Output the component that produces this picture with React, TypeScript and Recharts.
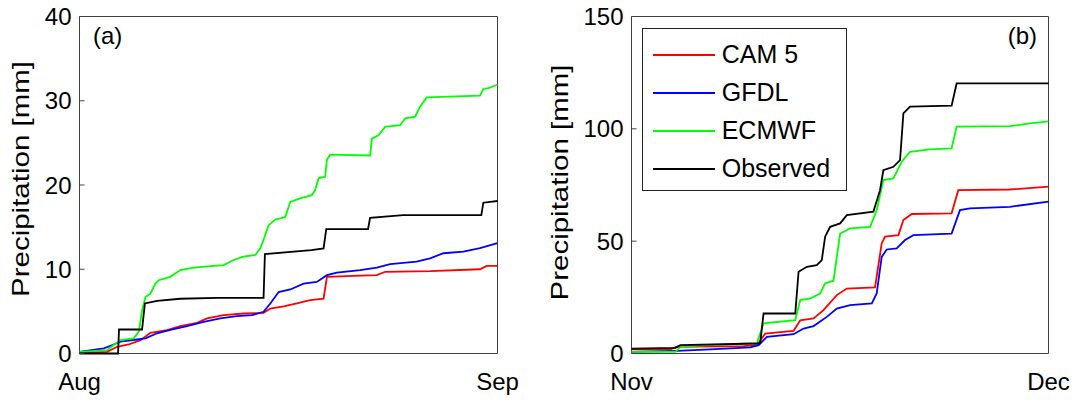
import React from "react";
import { LineChart, Line, XAxis, YAxis, ReferenceArea, Legend } from "recharts";

// ── Cumulative precipitation, two months ─────────────────────

type Pt = [number, number]; // [day of month, accumulated mm]

const SERIES_NAMES = ["CAM 5", "GFDL", "ECMWF", "Observed"];
const SERIES_COLORS = ["#ff0000", "#0000ff", "#00ff00", "#000000"];

const AUG_MONTHS = ["Aug", "Sep"];
const AUG_DAYS = 31;
const AUG_TICKS = [0, 10, 20, 30, 40];

const NOV_MONTHS = ["Nov", "Dec"];
const NOV_DAYS = 30;
const NOV_TICKS = [0, 50, 100, 150];

const AUG_CAM5: Pt[] = [
  [0, 0.08], [2.05, 0.2], [2.79, 0.8], [3.65, 1.07], [4.52, 1.58], [5.26, 2.45],
  [6.49, 2.77], [7.48, 3.25], [8.72, 3.64], [9.46, 4.16], [10.69, 4.55], [12.17, 4.75],
  [13.65, 4.83], [14.15, 5.34], [15.14, 5.6], [16.12, 5.94], [17.11, 6.33], [18.1, 6.5],
  [18.35, 9.1], [20.32, 9.22], [22.05, 9.3], [22.67, 9.7], [26.0, 9.78], [29.7, 10.0],
  [30.2, 10.4], [31, 10.4],
];
const AUG_GFDL: Pt[] = [
  [0, 0.2], [1.8, 0.6], [2.54, 1.07], [3.04, 1.4], [4.27, 1.66], [4.89, 1.8],
  [5.75, 2.4], [6.74, 2.8], [7.98, 3.25], [9.21, 3.76], [10.44, 4.16], [11.68, 4.43],
  [12.79, 4.55], [13.65, 4.95], [14.15, 5.94], [14.77, 7.3], [15.63, 7.6], [16.62, 8.3],
  [17.6, 8.5], [18.35, 9.3], [19.09, 9.6], [20.81, 9.9], [22.05, 10.2], [23.04, 10.6],
  [25.0, 10.9], [26.0, 11.3], [26.99, 11.9], [28.47, 12.1], [29.7, 12.5], [31, 13.1],
];
const AUG_ECMWF: Pt[] = [
  [0, 0.2], [2.05, 0.4], [2.54, 1.0], [3.04, 1.6], [4.02, 1.8], [4.4, 2.6],
  [4.64, 5.1], [4.89, 6.7], [5.26, 7.1], [5.63, 8.3], [5.88, 8.7], [6.74, 9.1],
  [7.48, 9.9], [8.47, 10.2], [9.95, 10.4], [10.69, 10.5], [11.43, 11.1], [12.17, 11.5],
  [13.04, 11.7], [13.41, 12.5], [13.65, 13.5], [14.02, 15.2], [14.52, 15.9], [15.26, 16.2],
  [15.63, 18.0], [16.37, 18.4], [17.23, 18.8], [17.48, 19.4], [17.73, 20.8], [18.22, 21.0],
  [18.35, 23.0], [18.59, 23.6], [21.56, 23.5], [21.68, 25.5], [22.17, 25.9], [22.67, 26.9],
  [23.78, 27.1], [24.15, 27.9], [24.89, 28.1], [25.26, 29.3], [25.75, 30.4], [29.7, 30.6],
  [29.95, 31.4], [30.32, 31.5], [31, 31.9],
];
const AUG_OBSERVED: Pt[] = [
  [0, 0], [2.86, 0], [2.93, 2.85], [4.64, 2.85], [4.85, 5.94], [5.75, 6.25],
  [7.48, 6.5], [10.2, 6.6], [13.65, 6.6], [13.75, 11.8], [17.2, 12.27], [18.1, 12.47],
  [18.3, 14.76], [21.4, 14.76], [21.55, 16.1], [24.0, 16.42], [29.8, 16.42], [29.95, 17.9],
  [31, 18.1],
];

const NOV_CAM5: Pt[] = [
  [0, 1.8], [2.8, 1.8], [3.28, 3.0], [8.07, 3.3], [9.03, 3.7], [9.62, 8.9],
  [11.66, 10.1], [12.14, 14.8], [13.1, 15.6], [13.81, 19.3], [14.77, 26], [15.49, 28.9],
  [17.52, 29.4], [18.0, 49], [18.24, 52], [19.2, 52.7], [19.56, 59.4], [20.16, 62.1],
  [23.03, 62.4], [23.51, 72.7], [27.22, 73.0], [30, 74.3],
];
const NOV_GFDL: Pt[] = [
  [0, 0.7], [3.28, 1.2], [5.67, 1.8], [8.55, 2.7], [9.15, 3.7], [9.74, 7.4],
  [11.66, 8.6], [12.38, 11.1], [13.1, 12.2], [14.05, 16.3], [14.77, 20.0], [15.73, 21.5],
  [17.29, 22.3], [17.64, 26.7], [18.0, 43], [18.36, 46.3], [19.08, 46.8], [19.68, 50.5],
  [20.28, 52.7], [23.03, 53.4], [23.63, 63.8], [24.35, 64.6], [27.22, 65.3], [30, 67.6],
];
const NOV_ECMWF: Pt[] = [
  [0, 0.7], [3.16, 0.7], [3.52, 3.0], [5.67, 3.7], [9.03, 4.75], [9.5, 13.4],
  [11.78, 14.8], [12.14, 23.8], [12.86, 24.5], [13.57, 26.7], [13.93, 31.2], [14.53, 32.4],
  [15.01, 53.4], [15.73, 55.7], [17.17, 56.4], [17.64, 63.8], [18.12, 77.2], [18.84, 77.9],
  [19.44, 85.4], [20.04, 89.8], [21.47, 90.9], [23.03, 91.3], [23.39, 101], [27.22, 101.2],
  [28.66, 102.4], [30, 103.3],
];
const NOV_OBSERVED: Pt[] = [
  [0, 2.2], [3.16, 2.5], [3.52, 3.7], [9.03, 4.45], [9.26, 4.6], [9.5, 17.8],
  [11.78, 17.8], [12.02, 36.4], [12.62, 38.6], [13.33, 39.3], [13.69, 41.6], [13.93, 52],
  [14.29, 56.4], [15.01, 57.9], [15.49, 61.6], [17.4, 63.1], [17.88, 72.7], [18.12, 81.6],
  [18.84, 83.1], [19.32, 86.1], [19.44, 96.5], [19.56, 106.9], [20.04, 109.9], [23.03, 110.3],
  [23.39, 120.2], [30, 120.2],
];

const FONT = '"Liberation Sans", Arial, sans-serif';
const AXIS = "#404040";
const HEIGHT = 403;
const Y_AXIS_W = 60;
const RIGHT_AXIS_W = 10;

const toRows = (pts: Pt[]) => pts.map(([x, y]) => ({ x, y }));

function LegendBox({ payload }: any) {
  const items = [...(payload || [])].sort(
    (a: any, b: any) => SERIES_NAMES.indexOf(a.value) - SERIES_NAMES.indexOf(b.value)
  );
  return (
    <div
      style={{
        boxSizing: "border-box",
        width: 205,
        height: 163,
        border: "1px solid #222",
        background: "#fff",
        paddingTop: 7,
        fontFamily: FONT,
      }}
    >
      {items.map((entry: any) => (
        <div key={entry.value} style={{ display: "flex", alignItems: "center", height: 38 }}>
          <span style={{ marginLeft: 10, width: 62, height: 2, background: entry.color }} />
          <span style={{ marginLeft: 7, fontSize: 25, lineHeight: 1, color: "#000" }}>
            {entry.value}
          </span>
        </div>
      ))}
    </div>
  );
}

interface PanelProps {
  series: Pt[][];
  days: number;
  months: string[];
  yTicks: number[];
  tag: string;
  tagSide: "left" | "right";
  width: number;
  // plot box edges inside the panel
  plot: { left: number; right: number; top: number; bottom: number };
  labelDx: number;
  labelDy: number;
  legend?: boolean;
}

function Panel({ series, days, months, yTicks, tag, tagSide, width, plot, labelDx, labelDy, legend }: PanelProps) {
  const yMax = yTicks[yTicks.length - 1];
  const margin = {
    top: plot.top,
    left: plot.left - Y_AXIS_W,
    right: width - plot.right - RIGHT_AXIS_W,
    bottom: HEIGHT - plot.bottom - 30,
  };

  const yLabel = (p: any) => {
    const vb = p.viewBox;
    const cx = vb.x + vb.width + labelDx;
    const cy = vb.y + vb.height / 2 + labelDy;
    return (
      <text
        transform={`translate(${cx}, ${cy}) rotate(-90)`}
        textAnchor="middle"
        fontSize={24}
        fill="#000"
        textLength={236}
        lengthAdjust="spacingAndGlyphs"
      >
        Precipitation [mm]
      </text>
    );
  };

  const tagLabel = (p: any) => {
    const vb = p.viewBox;
    const left = tagSide === "left";
    return (
      <text
        x={left ? vb.x + 13.5 : vb.x + vb.width - 11.5}
        y={vb.y + 27}
        textAnchor={left ? "start" : "end"}
        fontSize={24}
        fill="#000"
      >
        {tag}
      </text>
    );
  };

  return (
    <LineChart width={width} height={HEIGHT} margin={margin} style={{ fontFamily: FONT }}>
      <XAxis
        dataKey="x"
        type="number"
        domain={[0, days]}
        ticks={[0, days]}
        interval={0}
        tickFormatter={(v: number) => (v === 0 ? months[0] : months[1])}
        axisLine={false}
        tickLine={false}
        tickSize={0}
        tickMargin={19}
        height={30}
        tick={{ fill: "#000", fontSize: 24 }}
      />
      <YAxis
        domain={[0, yMax]}
        ticks={yTicks}
        interval={0}
        width={Y_AXIS_W}
        axisLine={false}
        tickSize={-5}
        tickMargin={13}
        stroke={AXIS}
        tick={{ fill: "#000", fontSize: 24 }}
        label={yLabel}
      />
      <YAxis
        yAxisId="right"
        orientation="right"
        domain={[0, yMax]}
        ticks={yTicks}
        interval={0}
        width={RIGHT_AXIS_W}
        axisLine={false}
        tickSize={-5}
        stroke={AXIS}
        tick={() => <g />}
      />
      <ReferenceArea
        x1={0}
        x2={days}
        y1={0}
        y2={yMax}
        fill="none"
        fillOpacity={0}
        stroke={AXIS}
        strokeWidth={1}
        label={tagLabel}
      />
      {series.map((pts, i) => (
        <Line
          key={SERIES_NAMES[i]}
          data={toRows(pts)}
          dataKey="y"
          name={SERIES_NAMES[i]}
          type="linear"
          stroke={SERIES_COLORS[i]}
          strokeWidth={1.8}
          dot={false}
          activeDot={false}
          isAnimationActive={false}
        />
      ))}
      {legend && (
        <Legend
          layout="horizontal"
          verticalAlign="middle"
          align="center"
          wrapperStyle={{ left: 101.7, top: 27.7, width: 205, height: 163 }}
          content={LegendBox}
        />
      )}
    </LineChart>
  );
}

export default function App() {
  return (
    <div style={{ position: "absolute", left: 0, top: 0, width: 1078, height: HEIGHT, background: "#fff" }}>
      <div style={{ position: "absolute", left: 0, top: 0 }}>
        <Panel
          series={[AUG_CAM5, AUG_GFDL, AUG_ECMWF, AUG_OBSERVED]}
          days={AUG_DAYS}
          months={AUG_MONTHS}
          yTicks={AUG_TICKS}
          tag="(a)"
          tagSide="left"
          width={540}
          plot={{ left: 79.5, right: 497.5, top: 16.5, bottom: 353.5 }}
          labelDx={-51}
          labelDy={-6}
        />
      </div>
      <div style={{ position: "absolute", left: 540, top: 0 }}>
        <Panel
          series={[NOV_CAM5, NOV_GFDL, NOV_ECMWF, NOV_OBSERVED]}
          days={NOV_DAYS}
          months={NOV_MONTHS}
          yTicks={NOV_TICKS}
          tag="(b)"
          tagSide="right"
          width={538}
          plot={{ left: 91.5, right: 508.5, top: 16.5, bottom: 353.5 }}
          labelDx={-63.2}
          labelDy={-2.5}
          legend
        />
      </div>
    </div>
  );
}
